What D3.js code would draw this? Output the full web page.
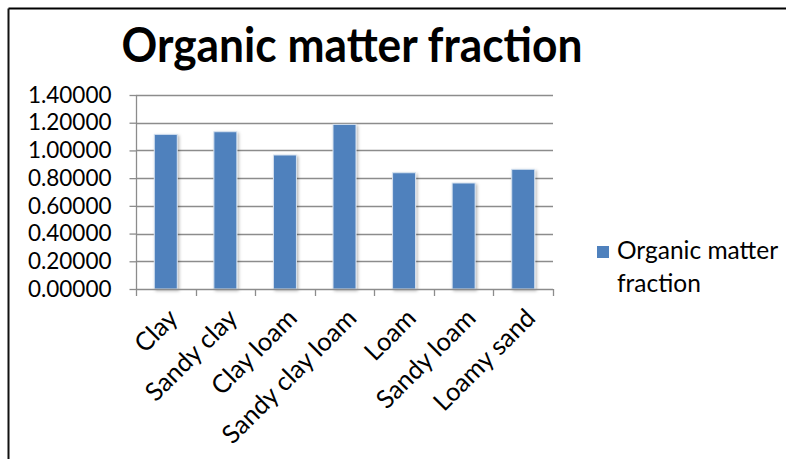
<!DOCTYPE html>
<html>
<head>
<meta charset="utf-8">
<script src="https://cdn.jsdelivr.net/npm/d3@7"></script>
<style>
  html, body { margin: 0; padding: 0; background: #ffffff; }
  svg { display: block; }
  text { font-family: Lato, "Open Sans", "Liberation Sans", sans-serif; fill: #000; }
</style>
</head>
<body>
<svg id="chart" width="786" height="459"></svg>
<script>
// Soil texture classes and their organic matter fraction
const categories = ["Clay", "Sandy clay", "Clay loam", "Sandy clay loam", "Loam", "Sandy loam", "Loamy sand"];
const values = [1.116, 1.135, 0.967, 1.188, 0.839, 0.765, 0.864];
const yTicks = [0, 0.2, 0.4, 0.6, 0.8, 1.0, 1.2, 1.4];
const seriesName = "Organic matter fraction";
const titleText = "Organic matter fraction";

const svg = d3.select("#chart");
const W = 786, H = 459;

const plot = { left: 136, right: 553, top: 95, bottom: 289 };

const x = d3.scaleBand()
  .domain(categories)
  .range([plot.left, plot.right])
  .paddingInner(0.614)
  .paddingOuter(0.307);

const y = d3.scaleLinear()
  .domain([0, 1.4])
  .range([plot.bottom, plot.top]);

// Soft shadow behind the bars
const defs = svg.append("defs");
const f = defs.append("filter").attr("id", "barShadow")
  .attr("x", "-30%").attr("y", "-10%").attr("width", "160%").attr("height", "130%");
f.append("feDropShadow").attr("dx", 1.5).attr("dy", 1.5).attr("stdDeviation", 1.5)
  .attr("flood-color", "#000").attr("flood-opacity", 0.28);

// Outer frame (top and left edges)
svg.append("line").attr("x1", 8.5).attr("x2", W).attr("y1", 8.5).attr("y2", 8.5)
  .attr("stroke", "#000").attr("stroke-width", 2);
svg.append("line").attr("x1", 8.5).attr("x2", 8.5).attr("y1", 8.5).attr("y2", H)
  .attr("stroke", "#111").attr("stroke-width", 2);

// Title
svg.append("text")
  .attr("x", 352).attr("y", 62)
  .attr("text-anchor", "middle")
  .attr("font-size", 48).attr("font-weight", "bold")
  .attr("textLength", 461).attr("lengthAdjust", "spacingAndGlyphs")
  .text(titleText);

// Horizontal gridlines
svg.append("g").selectAll("line")
  .data(yTicks.filter(d => d > 0))
  .join("line")
  .attr("x1", plot.left).attr("x2", plot.right)
  .attr("y1", d => Math.round(y(d)) + 0.5).attr("y2", d => Math.round(y(d)) + 0.5)
  .attr("stroke", "#8c8c8c").attr("stroke-width", 1.3);

// Y axis
const yAxis = d3.axisLeft(y)
  .tickValues(yTicks)
  .tickFormat(d3.format(".5f"))
  .tickSize(7)
  .tickPadding(18);
const gy = svg.append("g").attr("transform", `translate(${plot.left + 0.5},0)`).call(yAxis);
gy.select(".domain").attr("stroke", "#8c8c8c").attr("stroke-width", 1.3)
  .attr("d", `M0,${plot.top}V${plot.bottom}`);
gy.selectAll(".tick line").attr("stroke", "#8c8c8c").attr("stroke-width", 1.3);
gy.selectAll(".tick text").attr("font-size", 22.5)
  .attr("font-family", 'Lato, "Open Sans", sans-serif').attr("fill", "#000");

// Bars
svg.append("g").selectAll("rect")
  .data(categories.map((c, i) => ({ c, v: values[i] })))
  .join("rect")
  .attr("x", d => x(d.c))
  .attr("width", x.bandwidth())
  .attr("y", d => y(d.v))
  .attr("height", d => y(0) - y(d.v))
  .attr("fill", "#4f81bd")
  .attr("stroke", "#d6e2f0")
  .attr("stroke-width", 1)
  .attr("filter", "url(#barShadow)");

// X axis baseline with ticks on category boundaries
const step = x.step();
const gap = (step - x.bandwidth()) / 2;
const boundaries = categories.map(c => x(c) - gap).concat([plot.right]);
const gx = svg.append("g");
gx.append("line")
  .attr("x1", plot.left).attr("x2", plot.right)
  .attr("y1", plot.bottom + 0.5).attr("y2", plot.bottom + 0.5)
  .attr("stroke", "#8c8c8c").attr("stroke-width", 1.3);
gx.selectAll("line.tk").data(boundaries).join("line").attr("class", "tk")
  .attr("x1", d => Math.round(d) + 0.5).attr("x2", d => Math.round(d) + 0.5)
  .attr("y1", plot.bottom).attr("y2", plot.bottom + 7)
  .attr("stroke", "#8c8c8c").attr("stroke-width", 1.3);

// Rotated category labels
gx.selectAll("text").data(categories).join("text")
  .attr("transform", d => `translate(${x(d) + x.bandwidth() / 2 + 1},${plot.bottom + 18}) rotate(-45)`)
  .attr("text-anchor", "end")
  .attr("dy", "0.7em")
  .attr("font-size", 25.5)
  .text(d => d);

// Legend
const lg = svg.append("g");
lg.append("rect").attr("x", 597).attr("y", 246).attr("width", 12).attr("height", 12)
  .attr("fill", "#4f81bd");
const words = seriesName.split(" ");
const lt = lg.append("text").attr("x", 617).attr("y", 259).attr("font-size", 24.5);
lt.append("tspan").attr("x", 617).text(words.slice(0, 2).join(" "));
lt.append("tspan").attr("x", 617).attr("dy", 33).text(words.slice(2).join(" "));
</script>
</body>
</html>
